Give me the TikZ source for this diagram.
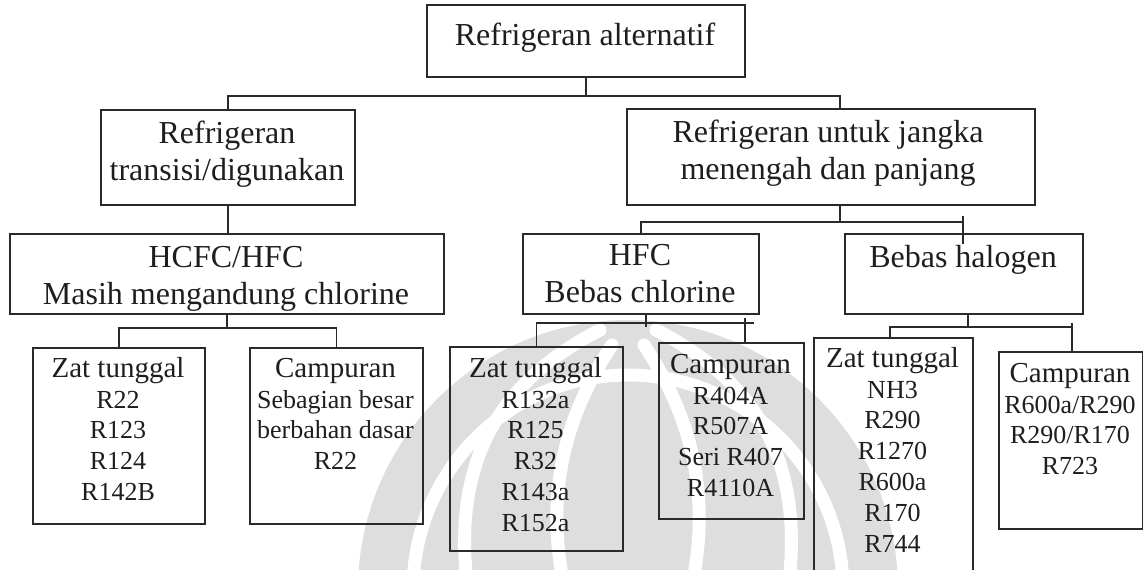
\documentclass[tikz,border=0pt]{standalone}
\usepackage{fontspec}
\setmainfont{Liberation Serif}
\definecolor{linec}{HTML}{2A2A2A}
\definecolor{txtc}{HTML}{1E1E1E}
\definecolor{emblemc}{HTML}{DEDEDE}
\newcommand{\topgap}[1]{\rule{0pt}{#1}}
\begin{document}
\begin{tikzpicture}[x=1pt,y=-1pt,
  frame/.style={draw=linec, line width=1.6pt, rectangle, inner sep=0pt, anchor=north west},
  wire/.style={draw=linec, line width=1.4pt},
  upper/.style={anchor=north, inner sep=0pt, align=center, text=txtc,
    font=\fontsize{32}{37.5}\selectfont},
  lower/.style={anchor=north, inner sep=0pt, align=center, text=txtc,
    font=\fontsize{26}{30.8}\selectfont},
  emblemfill/.style={fill=emblemc, draw=none},
  emblemcut/.style={draw=white, line width=13pt, line cap=round}]
\useasboundingbox (0,0) rectangle (1143,570);

% ---- faint emblem in the background ----
\begin{scope}
\clip (0,0) rectangle (1143,570);
\fill[emblemfill] (628,590) circle (270);
\draw[emblemcut] (628,590) circle (215);
\draw[emblemcut] (612,345) .. controls (562,420) and (545,500) .. (565,590);
\draw[emblemcut] (644,345) .. controls (694,420) and (711,500) .. (691,590);
\draw[emblemcut] (600,330) .. controls (492,385) and (452,470) .. (468,590);
\draw[emblemcut] (656,330) .. controls (764,385) and (804,470) .. (788,590);
\end{scope}

% ---- boxes ----
\node[frame, minimum width=318pt, minimum height=72pt]  (A) at (426,4)   {};
\node[frame, minimum width=254pt, minimum height=95pt]  (B) at (100,109) {};
\node[frame, minimum width=408pt, minimum height=96pt]  (F) at (626,108) {};
\node[frame, minimum width=434pt, minimum height=80pt]  (C) at (9,233)   {};
\node[frame, minimum width=236pt, minimum height=80pt]  (G) at (522,233) {};
\node[frame, minimum width=238pt, minimum height=80pt]  (J) at (844,233) {};
\node[frame, minimum width=172pt, minimum height=176pt] (D) at (32,347)  {};
\node[frame, minimum width=173pt, minimum height=176pt] (E) at (249,347) {};
\node[frame, minimum width=173pt, minimum height=204pt] (H) at (449,346) {};
\node[frame, minimum width=145pt, minimum height=176pt] (I) at (658,342) {};
\node[frame, minimum width=159pt, minimum height=260pt] (K) at (813,337) {};
\node[frame, minimum width=144pt, minimum height=177pt] (L) at (998,351) {};

% ---- labels ----
\node[upper] (tA) at (585,20)  {\topgap{25pt}Refrigeran alternatif};
\node[upper] (tB) at (227,118) {\topgap{25pt}Refrigeran\\transisi/digunakan};
\node[upper] (tF) at (828,117) {\topgap{25pt}Refrigeran untuk jangka\\menengah dan panjang};
\node[upper] (tC) at (226,242) {\topgap{25pt}HCFC/HFC\\Masih mengandung chlorine};
\node[upper] (tG) at (640,240) {\topgap{25pt}HFC\\Bebas chlorine};
\node[upper] (tJ) at (963,242) {\topgap{25pt}Bebas halogen};

\node[lower] (tD) at (118,355)   {{\fontsize{29}{30.8}\selectfont\topgap{22pt}Zat tunggal}\\R22\\R123\\R124\\R142B};
\node[lower] (tE) at (335.5,355) {{\fontsize{29}{30.8}\selectfont\topgap{22pt}Campuran}\\Sebagian besar\\berbahan dasar\\R22};
\node[lower] (tH) at (535.5,355) {{\fontsize{29}{30.8}\selectfont\topgap{22pt}Zat tunggal}\\R132a\\R125\\R32\\R143a\\R152a};
\node[lower] (tI) at (730.5,351) {{\fontsize{29}{30.8}\selectfont\topgap{22pt}Campuran}\\R404A\\R507A\\Seri R407\\R4110A};
\node[lower] (tK) at (892.5,345) {{\fontsize{29}{30.8}\selectfont\topgap{22pt}Zat tunggal}\\NH3\\R290\\R1270\\R600a\\R170\\R744};
\node[lower] (tL) at (1070,360)  {{\fontsize{29}{30.8}\selectfont\topgap{22pt}Campuran}\\R600a/R290\\R290/R170\\R723};

% ---- bus levels and junctions ----
\coordinate (bus0) at (0,96);
\coordinate (xF)   at (840,0);
\coordinate (bus1) at (0,222);
\coordinate (bus2) at (0,328);
\coordinate (bus3) at (0,323);
\coordinate (bus4) at (0,327);

% top level
\draw[wire] (A.south) -- (A.south |- bus0);
\draw[wire] (B.north) -- (B.north |- bus0) -- (xF |- bus0) -- (xF |- F.north);

% under the transitional branch
\draw[wire] (B.south) -- (C.north -| B.south);
\draw[wire] (C.south) -- (C.south |- bus2);
\draw[wire] (D.north) -- (D.north |- bus2) -- (E.north |- bus2) -- (E.north);

% under the long-term branch
\draw[wire] (xF |- F.south) -- (xF |- bus1);
\draw[wire] (G.north) -- (G.north |- bus1) -- ([xshift=-1pt]J.north |- bus1);
\draw[wire] ([xshift=-1pt,yshift=17pt]J.north) -- ([xshift=-1pt,yshift=-11pt]J.north);

% under HFC
\draw[wire] ([xshift=5pt]G.south) -- ([xshift=5pt]G.south |- bus4);
\draw[wire] (H.north) -- (H.north |- bus3) -- ([xshift=22.5pt]I.north |- bus3);
\draw[wire] ([xshift=13.5pt,yshift=24pt]I.north) -- ([xshift=13.5pt]I.north);

% under halogen-free
\draw[wire] ([xshift=4pt]J.south) -- ([xshift=4pt]J.south |- bus4);
\draw[wire] ([xshift=-3.5pt]K.north) -- ([xshift=-3.5pt]K.north |- bus4) -- ([xshift=1pt]L.north |- bus4);
\draw[wire] ([xshift=1pt,yshift=28pt]L.north) -- ([xshift=1pt]L.north);
\end{tikzpicture}
\end{document}
